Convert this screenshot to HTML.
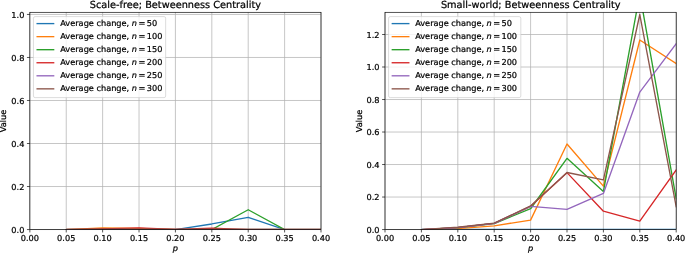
<!DOCTYPE html>
<html lang="en"><head><meta charset="utf-8"><title>Betweenness Centrality</title>
<style>html,body{margin:0;padding:0;background:#fff}svg{display:block}text{stroke:#000;stroke-width:0.22px}</style></head>
<body>
<svg width="685" height="253" viewBox="0 0 685 253" font-family="'DejaVu Sans', 'Liberation Sans', sans-serif" font-size="8.2" fill="#000" text-rendering="geometricPrecision">
<rect width="685" height="253" fill="#fff"/>
<clipPath id="c0"><rect x="29.85" y="12.3" width="291.15" height="217.25"/></clipPath>
<path d="M29.85 12.3V229.55M66.24 12.3V229.55M102.64 12.3V229.55M139.03 12.3V229.55M175.42 12.3V229.55M211.82 12.3V229.55M248.21 12.3V229.55M284.61 12.3V229.55M321.00 12.3V229.55M29.85 229.55H321.0M29.85 186.53H321.0M29.85 143.51H321.0M29.85 100.49H321.0M29.85 57.47H321.0M29.85 14.45H321.0" stroke="#b0b0b0" stroke-width="0.72" fill="none"/>
<g clip-path="url(#c0)" fill="none" stroke-width="1.35" stroke-linejoin="round" stroke-linecap="square">
<polyline points="66.24,229.55 102.64,229.55 139.03,229.55 175.42,229.55 211.82,223.96 248.21,217.29 284.61,229.55 321.00,229.55" stroke="#1f77b4"/>
<polyline points="66.24,229.55 102.64,228.04 139.03,228.47 175.42,229.55 211.82,229.55 248.21,229.55 284.61,229.55 321.00,229.55" stroke="#ff7f0e"/>
<polyline points="66.24,229.55 102.64,229.55 139.03,229.55 175.42,229.55 211.82,229.55 248.21,209.76 284.61,229.55 321.00,229.55" stroke="#2ca02c"/>
<polyline points="66.24,229.55 102.64,228.90 139.03,227.83 175.42,229.33 211.82,228.26 248.21,229.55 284.61,229.55 321.00,229.55" stroke="#d62728"/>
<polyline points="66.24,229.55 102.64,229.55 139.03,229.55 175.42,229.55 211.82,229.55 248.21,229.55 284.61,229.55 321.00,229.55" stroke="#9467bd"/>
<polyline points="66.24,229.55 102.64,229.55 139.03,229.55 175.42,229.55 211.82,229.55 248.21,229.55 284.61,229.55 321.00,229.55" stroke="#8c564b" stroke-width="2.25" stroke-linecap="butt"/>
</g>
<path d="M29.85 229.55v2.9M66.24 229.55v2.9M102.64 229.55v2.9M139.03 229.55v2.9M175.42 229.55v2.9M211.82 229.55v2.9M248.21 229.55v2.9M284.61 229.55v2.9M321.00 229.55v2.9M29.85 229.55h-2.9M29.85 186.53h-2.9M29.85 143.51h-2.9M29.85 100.49h-2.9M29.85 57.47h-2.9M29.85 14.45h-2.9" stroke="#000" stroke-width="0.67" fill="none"/>
<rect x="29.85" y="12.3" width="291.15" height="217.25" fill="none" stroke="#000" stroke-width="0.67"/>
<text x="29.85" y="241.28" text-anchor="middle">0.00</text>
<text x="66.24" y="241.28" text-anchor="middle">0.05</text>
<text x="102.64" y="241.28" text-anchor="middle">0.10</text>
<text x="139.03" y="241.28" text-anchor="middle">0.15</text>
<text x="175.42" y="241.28" text-anchor="middle">0.20</text>
<text x="211.82" y="241.28" text-anchor="middle">0.25</text>
<text x="248.21" y="241.28" text-anchor="middle">0.30</text>
<text x="284.61" y="241.28" text-anchor="middle">0.35</text>
<text x="321.00" y="241.28" text-anchor="middle">0.40</text>
<text x="24.40" y="232.79" text-anchor="end">0.0</text>
<text x="24.40" y="189.77" text-anchor="end">0.2</text>
<text x="24.40" y="146.75" text-anchor="end">0.4</text>
<text x="24.40" y="103.73" text-anchor="end">0.6</text>
<text x="24.40" y="60.71" text-anchor="end">0.8</text>
<text x="24.40" y="17.69" text-anchor="end">1.0</text>
<text x="175.43" y="251.1" text-anchor="middle" font-style="italic">p</text>
<text transform="translate(6.4 120.93) rotate(-90)" text-anchor="middle">Value</text>
<text x="175.43" y="8.0" text-anchor="middle" font-size="9.75">Scale-free; Betweenness Centrality</text>
<rect x="33.45" y="16.60" width="132.2" height="81.0" rx="1.6" fill="#fff" fill-opacity="0.8" stroke="#ccc" stroke-width="0.67"/>
<path d="M37.15 23.60h16.5" stroke="#1f77b4" stroke-width="1.35" stroke-linecap="square" fill="none"/>
<text x="60.25" y="26.10">Average change, <tspan x="131.65" font-style="italic">n</tspan><tspan x="138.55">=</tspan><tspan x="146.75">50</tspan></text>
<path d="M37.15 36.65h16.5" stroke="#ff7f0e" stroke-width="1.35" stroke-linecap="square" fill="none"/>
<text x="60.25" y="39.15">Average change, <tspan x="131.65" font-style="italic">n</tspan><tspan x="138.55">=</tspan><tspan x="146.75">100</tspan></text>
<path d="M37.15 49.70h16.5" stroke="#2ca02c" stroke-width="1.35" stroke-linecap="square" fill="none"/>
<text x="60.25" y="52.20">Average change, <tspan x="131.65" font-style="italic">n</tspan><tspan x="138.55">=</tspan><tspan x="146.75">150</tspan></text>
<path d="M37.15 62.75h16.5" stroke="#d62728" stroke-width="1.35" stroke-linecap="square" fill="none"/>
<text x="60.25" y="65.25">Average change, <tspan x="131.65" font-style="italic">n</tspan><tspan x="138.55">=</tspan><tspan x="146.75">200</tspan></text>
<path d="M37.15 75.80h16.5" stroke="#9467bd" stroke-width="1.35" stroke-linecap="square" fill="none"/>
<text x="60.25" y="78.30">Average change, <tspan x="131.65" font-style="italic">n</tspan><tspan x="138.55">=</tspan><tspan x="146.75">250</tspan></text>
<path d="M37.15 88.85h16.5" stroke="#8c564b" stroke-width="1.35" stroke-linecap="square" fill="none"/>
<text x="60.25" y="91.35">Average change, <tspan x="131.65" font-style="italic">n</tspan><tspan x="138.55">=</tspan><tspan x="146.75">300</tspan></text>
<clipPath id="c1"><rect x="385.0" y="12.3" width="291.20" height="217.25"/></clipPath>
<path d="M385.00 12.3V229.55M421.40 12.3V229.55M457.80 12.3V229.55M494.20 12.3V229.55M530.60 12.3V229.55M567.00 12.3V229.55M603.40 12.3V229.55M639.80 12.3V229.55M676.20 12.3V229.55M385.0 229.55H676.2M385.0 197.04H676.2M385.0 164.53H676.2M385.0 132.03H676.2M385.0 99.52H676.2M385.0 67.01H676.2M385.0 34.50H676.2" stroke="#b0b0b0" stroke-width="0.72" fill="none"/>
<g clip-path="url(#c1)" fill="none" stroke-width="1.35" stroke-linejoin="round" stroke-linecap="square">
<polyline points="421.40,229.55 457.80,229.55 494.20,229.55 530.60,229.55 567.00,229.55 603.40,229.55 639.80,229.55 676.20,229.55" stroke="#1f77b4" stroke-width="1.55" stroke-linecap="butt"/>
<polyline points="421.40,229.55 457.80,228.57 494.20,225.81 530.60,220.12 567.00,144.05 603.40,186.15 639.80,40.03 676.20,63.60" stroke="#ff7f0e"/>
<polyline points="421.40,229.55 457.80,227.76 494.20,223.54 530.60,208.74 567.00,158.36 603.40,191.52 639.80,-6.13 676.20,198.67" stroke="#2ca02c"/>
<polyline points="421.40,229.55 457.80,227.60 494.20,223.37 530.60,206.31 567.00,172.66 603.40,211.18 639.80,221.10 676.20,170.06" stroke="#d62728"/>
<polyline points="421.40,229.55 457.80,227.60 494.20,223.37 530.60,206.31 567.00,209.40 603.40,193.47 639.80,92.04 676.20,43.77" stroke="#9467bd"/>
<polyline points="421.40,229.55 457.80,227.27 494.20,223.05 530.60,205.98 567.00,172.50 603.40,179.81 639.80,14.51 676.20,206.79" stroke="#8c564b"/>
</g>
<path d="M385.00 229.55v2.9M421.40 229.55v2.9M457.80 229.55v2.9M494.20 229.55v2.9M530.60 229.55v2.9M567.00 229.55v2.9M603.40 229.55v2.9M639.80 229.55v2.9M676.20 229.55v2.9M385.0 229.55h-2.9M385.0 197.04h-2.9M385.0 164.53h-2.9M385.0 132.03h-2.9M385.0 99.52h-2.9M385.0 67.01h-2.9M385.0 34.50h-2.9" stroke="#000" stroke-width="0.67" fill="none"/>
<rect x="385.0" y="12.3" width="291.20" height="217.25" fill="none" stroke="#000" stroke-width="0.67"/>
<text x="385.00" y="241.28" text-anchor="middle">0.00</text>
<text x="421.40" y="241.28" text-anchor="middle">0.05</text>
<text x="457.80" y="241.28" text-anchor="middle">0.10</text>
<text x="494.20" y="241.28" text-anchor="middle">0.15</text>
<text x="530.60" y="241.28" text-anchor="middle">0.20</text>
<text x="567.00" y="241.28" text-anchor="middle">0.25</text>
<text x="603.40" y="241.28" text-anchor="middle">0.30</text>
<text x="639.80" y="241.28" text-anchor="middle">0.35</text>
<text x="676.20" y="241.28" text-anchor="middle">0.40</text>
<text x="379.55" y="232.79" text-anchor="end">0.0</text>
<text x="379.55" y="200.28" text-anchor="end">0.2</text>
<text x="379.55" y="167.78" text-anchor="end">0.4</text>
<text x="379.55" y="135.27" text-anchor="end">0.6</text>
<text x="379.55" y="102.76" text-anchor="end">0.8</text>
<text x="379.55" y="70.25" text-anchor="end">1.0</text>
<text x="379.55" y="37.75" text-anchor="end">1.2</text>
<text x="530.60" y="251.1" text-anchor="middle" font-style="italic">p</text>
<text transform="translate(361.6 120.93) rotate(-90)" text-anchor="middle">Value</text>
<text x="530.75" y="8.0" text-anchor="middle" font-size="9.75">Small-world; Betweenness Centrality</text>
<rect x="388.60" y="16.60" width="132.2" height="81.0" rx="1.6" fill="#fff" fill-opacity="0.8" stroke="#ccc" stroke-width="0.67"/>
<path d="M392.30 23.60h16.5" stroke="#1f77b4" stroke-width="1.35" stroke-linecap="square" fill="none"/>
<text x="415.15" y="26.10">Average change, <tspan x="486.55" font-style="italic">n</tspan><tspan x="493.15">=</tspan><tspan x="501.45">50</tspan></text>
<path d="M392.30 36.65h16.5" stroke="#ff7f0e" stroke-width="1.35" stroke-linecap="square" fill="none"/>
<text x="415.15" y="39.15">Average change, <tspan x="486.55" font-style="italic">n</tspan><tspan x="493.15">=</tspan><tspan x="501.45">100</tspan></text>
<path d="M392.30 49.70h16.5" stroke="#2ca02c" stroke-width="1.35" stroke-linecap="square" fill="none"/>
<text x="415.15" y="52.20">Average change, <tspan x="486.55" font-style="italic">n</tspan><tspan x="493.15">=</tspan><tspan x="501.45">150</tspan></text>
<path d="M392.30 62.75h16.5" stroke="#d62728" stroke-width="1.35" stroke-linecap="square" fill="none"/>
<text x="415.15" y="65.25">Average change, <tspan x="486.55" font-style="italic">n</tspan><tspan x="493.15">=</tspan><tspan x="501.45">200</tspan></text>
<path d="M392.30 75.80h16.5" stroke="#9467bd" stroke-width="1.35" stroke-linecap="square" fill="none"/>
<text x="415.15" y="78.30">Average change, <tspan x="486.55" font-style="italic">n</tspan><tspan x="493.15">=</tspan><tspan x="501.45">250</tspan></text>
<path d="M392.30 88.85h16.5" stroke="#8c564b" stroke-width="1.35" stroke-linecap="square" fill="none"/>
<text x="415.15" y="91.35">Average change, <tspan x="486.55" font-style="italic">n</tspan><tspan x="493.15">=</tspan><tspan x="501.45">300</tspan></text>
</svg>
</body></html>
